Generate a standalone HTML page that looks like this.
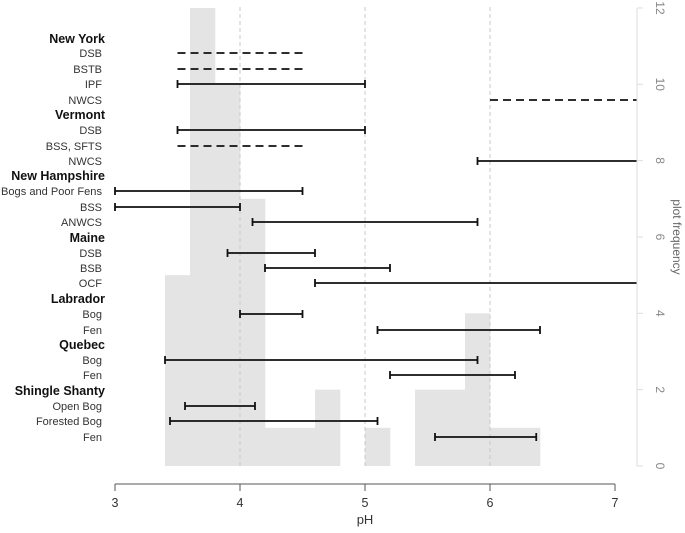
<!DOCTYPE html>
<html><head><meta charset="utf-8"><style>
body{margin:0;background:#fff;}
svg{display:block;font-family:"Liberation Sans",Arial,sans-serif;}
</style></head><body>
<svg id="chart" width="685" height="533" viewBox="0 0 685 533"></svg>
<script>
const binStarts=[3.4,3.6,3.8,4.0,4.2,4.4,4.6,4.8,5.0,5.2,5.4,5.6,5.8,6.0,6.2];
const binCounts=[5,12,10,7,1,1,2,0,1,0,2,2,4,1,1];
const rowLabels=["New York","DSB","BSTB","IPF","NWCS","Vermont","DSB","BSS, SFTS","NWCS","New Hampshire","Bogs and Poor Fens","BSS","ANWCS","Maine","DSB","BSB","OCF","Labrador","Bog","Fen","Quebec","Bog","Fen","Shingle Shanty","Open Bog","Forested Bog","Fen"];
const rowY=[39,53,69,84,100,115,130,146,161,176,191,207,222,238,253,268,283,299,314,330,345,360,375,391,406,421,437];
const rowHeader=[1,0,0,0,0,1,0,0,0,1,0,0,0,1,0,0,0,1,0,0,1,0,0,1,0,0,0];
const rangeMin=[null,3.5,3.5,3.5,6.0,null,3.5,3.5,5.9,null,3.0,3.0,4.1,null,3.9,4.2,4.6,null,4.0,5.1,null,3.4,5.2,null,3.56,3.44,5.56];
const rangeMax=[null,4.5,4.5,5.0,7.3,null,5.0,4.5,7.3,null,4.5,4.0,5.9,null,4.6,5.2,7.3,null,4.5,6.4,null,5.9,6.2,null,4.12,5.1,6.37];
const rangeDashed=[0,1,1,0,1,0,0,1,0,0,0,0,0,0,0,0,0,0,0,0,0,0,0,0,0,0,0];
const xTicks=[3,4,5,6,7];
const yTicks=[0,2,4,6,8,10,12];
const gridX=[4,5,6];

const svg=document.getElementById('chart');
const NS='http://www.w3.org/2000/svg';
const X=v=>115+(v-3)*125;
const Y=v=>466-v*38.17;
const PR=637;
function el(t,a,p){const e=document.createElementNS(NS,t);for(const k in a)e.setAttribute(k,a[k]);(p||svg).appendChild(e);return e;}
const clip=el('clipPath',{id:'pc'});el('rect',{x:0,y:0,width:PR,height:533},clip);

const hg=el('g',{});


binStarts.forEach((b,i)=>{if(!binCounts[i])return;
 const r=el('rect',{x:X(b),y:Y(binCounts[i]),width:X(b+0.2)-X(b)+0.3,height:Y(0)-Y(binCounts[i]),fill:'#e4e4e4'},hg);
 
 
});
gridX.forEach(v=>{const l=el('line',{x1:X(v),x2:X(v),y1:7,y2:466,stroke:'#c8c8c8','stroke-dasharray':'4,3','stroke-width':1});
 
 });

rowLabels.forEach((t,i)=>{
 const tx=el('text',{x:rowHeader[i]?105:102,y:rowY[i]+4,'text-anchor':'end','font-size':rowHeader[i]?12.5:11,'font-weight':rowHeader[i]?'bold':'normal',fill:rowHeader[i]?'#111':'#333'});
 if(t==='Bogs and Poor Fens'){tx.setAttribute('textLength','101');tx.setAttribute('lengthAdjust','spacingAndGlyphs');}
 tx.textContent=t;
 
 
 if(rangeMin[i]==null)return;
 const g=el('g',{'clip-path':'url(#pc)'});
 
 
 const y=rowY[i],x1=X(rangeMin[i]),x2=X(rangeMax[i]);
 if(rangeDashed[i]){el('line',{x1:x1,x2:x2,y1:y,y2:y,stroke:'#111','stroke-width':1.8,'stroke-dasharray':'8,5'},g);}
 else{el('line',{x1:x1,x2:x2,y1:y,y2:y,stroke:'#111','stroke-width':1.8},g);
  el('line',{x1:x1,x2:x1,y1:y-4,y2:y+4,stroke:'#111','stroke-width':1.8},g);
  el('line',{x1:x2,x2:x2,y1:y-4,y2:y+4,stroke:'#111','stroke-width':1.8},g);}
});

const xa=el('g',{});


el('line',{x1:X(3),x2:X(7),y1:484,y2:484,stroke:'#555','stroke-width':1},xa);
xTicks.forEach(v=>{el('line',{x1:X(v),x2:X(v),y1:484,y2:491,stroke:'#555'},xa);
 const t=el('text',{x:X(v),y:507,'text-anchor':'middle','font-size':12.5,fill:'#333'},xa);t.textContent=v;});
const xt=el('text',{x:X(5),y:524,'text-anchor':'middle','font-size':13,fill:'#333'});xt.textContent='pH';



const ya=el('g',{});


el('line',{x1:PR,x2:PR,y1:Y(0),y2:Y(12),stroke:'#ddd'},ya);
yTicks.forEach(v=>{el('line',{x1:PR,x2:643,y1:Y(v),y2:Y(v),stroke:'#ddd'},ya);
 const t=el('text',{x:0,y:0,'text-anchor':'middle','font-size':12,fill:'#888',transform:`translate(656,${Y(v)}) rotate(90)`},ya);t.textContent=v;});
const yt=el('text',{x:0,y:0,'text-anchor':'middle','font-size':12,fill:'#666',transform:`translate(673,${Y(6)}) rotate(90)`});yt.textContent='plot frequency';


</script>
</body></html>
